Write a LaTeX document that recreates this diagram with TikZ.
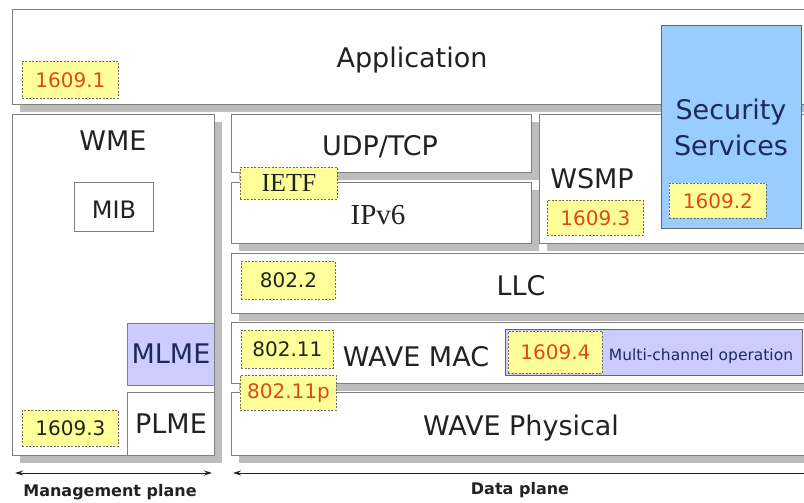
\documentclass[tikz,border=0pt]{standalone}
\usepackage{fontspec}
\setmainfont{DejaVu Sans}
\newfontfamily\seriffam{Liberation Serif}
\usetikzlibrary{shadows,arrows.meta}

\definecolor{edge}{HTML}{7F7F7F}
\definecolor{shade}{HTML}{BDBDBD}
\definecolor{tagfill}{HTML}{FFFF99}
\definecolor{tagedge}{HTML}{6E6E50}
\definecolor{secblue}{HTML}{99CCFF}
\definecolor{lavender}{HTML}{CCCCFF}
\definecolor{navy}{HTML}{1C2A5A}
\definecolor{ink}{HTML}{222222}
\definecolor{stdred}{HTML}{E0481C}

\begin{document}
\begin{tikzpicture}[x=1pt,y=-1pt,
  layer/.style={draw=edge, line width=1.2pt, fill=white, inner sep=0pt,
    anchor=north west,
    drop shadow={shadow xshift=7pt, shadow yshift=-7pt, fill=shade, opacity=1}},
  plainbox/.style={draw=edge, line width=1.2pt, fill=white, inner sep=0pt,
    anchor=north west},
  tag/.style={draw=tagedge, dash pattern=on 2pt off 1.5pt, line width=0.9pt,
    fill=tagfill, inner sep=0pt, anchor=north west,
    font=\fontsize{20}{22}\selectfont, text=ink},
  redtag/.style={tag, text=stdred},
  main/.style={font=\fontsize{27}{30}\selectfont, text=ink, inner sep=0pt, anchor=base},
  serifmain/.style={font=\seriffam\fontsize{29}{32}\selectfont, text=ink, inner sep=0pt, anchor=base},
  planelabel/.style={font=\bfseries\fontsize{16}{18}\selectfont, text=ink, inner sep=0pt, anchor=base},
  planearrow/.style={draw=ink, line width=1pt, {Stealth[length=8pt,width=5pt]}-{Stealth[length=8pt,width=5pt]}}
]
\useasboundingbox (0,0) rectangle (804,503);
\fill[white] (0,0) rectangle (804,503);

% application layer and security services
\node[layer, minimum width=800pt, minimum height=95pt] (app) at (12,9) {};
\node[main] (apptext) at (412,67) {Application};
\node[redtag, minimum width=96pt, minimum height=37pt] (t16091) at (22,61) {1609.1};

% management plane
\node[layer, minimum width=202pt, minimum height=341pt] (wme) at (12,114) {};
\node[main] (wmetext) at (113,150) {WME};
\node[plainbox, minimum width=79pt, minimum height=49pt] (mib) at (74,182) {};
\node[main, font=\fontsize{24}{28}\selectfont] (mibtext) at (114,218) {MIB};
\node[plainbox, fill=lavender, minimum width=87pt, minimum height=62pt] (mlme) at (127,323) {};
\node[main, text=navy] (mlmetext) at (171,363) {MLME};
\node[plainbox, minimum width=87pt, minimum height=63pt] (plme) at (127,392) {};
\node[main] (plmetext) at (171,433) {PLME};
\node[tag, minimum width=96pt, minimum height=36pt] (t16093a) at (22,410) {1609.3};

% data plane
\node[layer, minimum width=300pt, minimum height=58pt] (udp) at (231,114) {};
\node[main] (udptext) at (380,155) {UDP/TCP};
\node[layer, minimum width=300pt, minimum height=61pt] (ipv6) at (231,182) {};
\node[serifmain] (ipv6text) at (378,224) {IPv6};
\node[tag, font=\seriffam\fontsize{26}{28}\selectfont, minimum width=97pt, minimum height=32pt] (tietf) at (240,167) {IETF};

\node[layer, minimum width=270pt, minimum height=129pt] (wsmp) at (539,114) {};
\node[main] (wsmptext) at (592,188) {WSMP};
\node[redtag, minimum width=96pt, minimum height=35pt] (t16093b) at (547,200) {1609.3};

\node[plainbox, draw=edge!80!black, fill=secblue, minimum width=140pt, minimum height=203pt] (sec) at (661,25) {};
\node[main, text=navy] (sectext1) at (731,120) {Security};
\node[main, text=navy] (sectext2) at (731,155) {Services};
\node[redtag, minimum width=97pt, minimum height=35pt] (t16092) at (669,183) {1609.2};

\node[layer, minimum width=578pt, minimum height=60pt] (llc) at (231,253) {};
\node[main] (llctext) at (521,295) {LLC};
\node[tag, minimum width=94pt, minimum height=38pt] (t8022) at (241,261) {802.2};

\node[layer, minimum width=578pt, minimum height=61pt] (mac) at (231,322) {};
\node[main] (mactext) at (416,366) {WAVE MAC};
\node[tag, minimum width=92pt, minimum height=38pt] (t80211) at (241,330) {802.11};
\node[plainbox, draw=edge!80!black, line width=1pt, fill=lavender, minimum width=297pt, minimum height=46pt] (mco) at (505,329) {};
\node[redtag, minimum width=94pt, minimum height=42pt] (t16094) at (508,331) {1609.4};
\node[main, text=navy, font=\fontsize{15.5}{18}\selectfont] (mcotext) at (701,360) {Multi-channel operation};

\node[layer, minimum width=578pt, minimum height=63pt] (phy) at (231,392) {};
\node[main] (phytext) at (521,435) {WAVE Physical};
\node[redtag, minimum width=96pt, minimum height=35pt] (t80211p) at (240,375) {802.11p};

% plane extents
\coordinate (mpl) at (15,473);
\coordinate (mpr) at (212,473);
\draw[planearrow] (mpl) -- (mpr);
\node[planelabel] (mplabel) at (110,496) {Management plane};
\coordinate (dpl) at (233,473);
\coordinate (dpr) at (815,473);
\draw[planearrow] (dpl) -- (dpr);
\node[planelabel] (dplabel) at (520,494) {Data plane};
\end{tikzpicture}
\end{document}
